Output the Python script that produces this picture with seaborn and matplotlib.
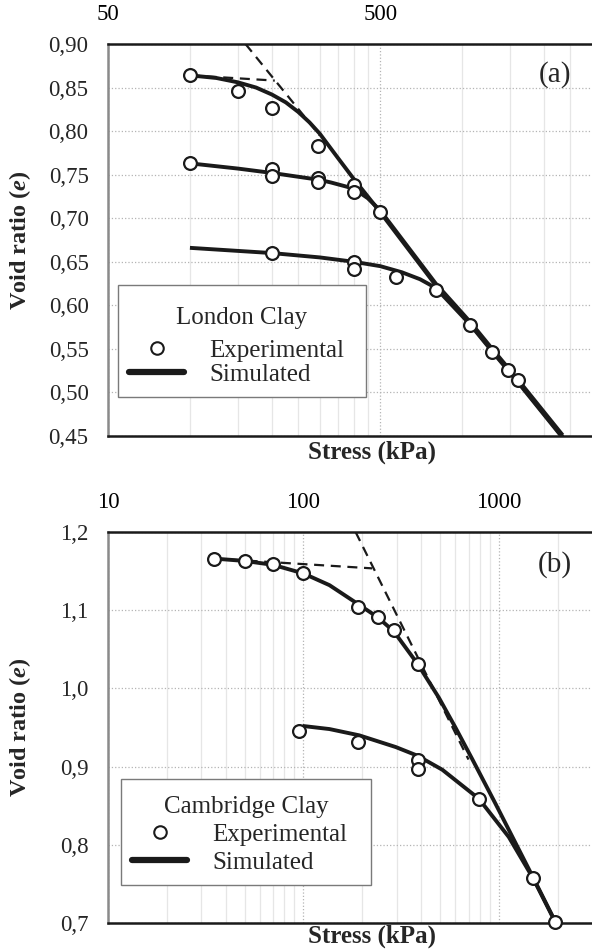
import numpy as np
import pandas as pd
import matplotlib
matplotlib.use("Agg")
import matplotlib.pyplot as plt
from matplotlib.lines import Line2D
from matplotlib.offsetbox import DrawingArea
from matplotlib.ticker import FixedLocator, NullFormatter, FixedFormatter
import seaborn as sns

# ---------------- Panel (a): London Clay ----------------
lc_exp1_s = [100, 150, 200, 295, 400, 500]
lc_exp1_e = [0.864, 0.846, 0.827, 0.783, 0.738, 0.707]
lc_exp2_s = [100, 200, 200, 295, 295, 400]
lc_exp2_e = [0.763, 0.756, 0.749, 0.746, 0.742, 0.730]
lc_exp3_s = [200, 400, 400, 570, 800, 1070, 1290, 1480, 1600]
lc_exp3_e = [0.660, 0.650, 0.642, 0.632, 0.618, 0.577, 0.547, 0.526, 0.514]

lc_sim1_s = [100, 125, 150, 175, 200, 225, 250, 275, 300, 350, 400, 450, 500,
             800, 1070, 1290, 1600, 2340]
lc_sim1_e = [0.864, 0.861, 0.856, 0.850, 0.842, 0.833, 0.822, 0.810, 0.797, 0.769,
             0.745, 0.725, 0.707, 0.623, 0.579, 0.548, 0.513, 0.449]
lc_sim2_s = [100, 150, 200, 300, 330, 400, 450, 500, 800, 1070, 1290, 1600, 2340]
lc_sim2_e = [0.763, 0.757, 0.752, 0.744, 0.741, 0.734, 0.723, 0.709, 0.625, 0.581,
             0.550, 0.515, 0.451]
lc_sim3_s = [100, 200, 300, 400, 500, 600, 700, 800, 900, 1070, 1290, 1600, 2340]
lc_sim3_e = [0.666, 0.660, 0.655, 0.650, 0.645, 0.638, 0.630, 0.620, 0.603, 0.578,
             0.547, 0.512, 0.448]

lc_dash1_s = [100, 205]
lc_dash1_e = [0.864, 0.858]
lc_dash2_s = [160, 300]
lc_dash2_e = [0.900, 0.795]

lc_xticks = [50, 500, 5000]
lc_xticklabels = ["50", "500", "5000"]
lc_yticks = [0.45, 0.50, 0.55, 0.60, 0.65, 0.70, 0.75, 0.80, 0.85, 0.90]
lc_yticklabels = ["0,45", "0,50", "0,55", "0,60", "0,65", "0,70", "0,75", "0,80", "0,85", "0,90"]

# ---------------- Panel (b): Cambridge Clay ----------------
cc_exp1_s = [35, 50, 70, 100, 190, 240, 290, 385, 1500, 1950]
cc_exp1_e = [1.166, 1.163, 1.159, 1.147, 1.104, 1.091, 1.075, 1.031, 0.757, 0.701]
cc_exp2_s = [95, 190, 385, 385, 790]
cc_exp2_e = [0.945, 0.932, 0.908, 0.897, 0.859]

cc_sim1_s = [35, 50, 70, 100, 136, 190, 240, 290, 385, 494, 600, 730, 960, 1500, 1950]
cc_sim1_e = [1.166, 1.163, 1.158, 1.147, 1.132, 1.108, 1.091, 1.073, 1.031, 0.988,
             0.950, 0.910, 0.853, 0.758, 0.701]
cc_sim2_s = [99, 136, 193, 297, 383, 514, 790, 1125, 1500, 1950]
cc_sim2_e = [0.952, 0.948, 0.940, 0.925, 0.914, 0.896, 0.859, 0.810, 0.757, 0.701]

cc_dash1_s = [35, 225]
cc_dash1_e = [1.166, 1.1535]
cc_dash2_s = [185, 700]
cc_dash2_e = [1.200, 0.909]

cc_xticks = [10, 100, 1000]
cc_xticklabels = ["10", "100", "1000"]
cc_yticks = [0.7, 0.8, 0.9, 1.0, 1.1, 1.2]
cc_yticklabels = ["0,7", "0,8", "0,9", "1,0", "1,1", "1,2"]

sns.set_style("white")
plt.rcParams["font.family"] = ["Liberation Serif", "DejaVu Serif"]
plt.rcParams["mathtext.fontset"] = "custom"
plt.rcParams["mathtext.rm"] = "Liberation Serif"
plt.rcParams["mathtext.it"] = "Liberation Serif:italic"
plt.rcParams["mathtext.bf"] = "Liberation Serif:bold"
plt.rcParams["mathtext.bfit"] = "Liberation Serif:bold:italic"

INK = "#1a1a1a"


def frame(pairs, name):
    parts = []
    for i, (s, e) in enumerate(pairs):
        parts.append(pd.DataFrame({"stress": s, "e": e, "curve": f"{name}{i}"}))
    return pd.concat(parts, ignore_index=True)


def draw_panel(ax, sims, exps, dashes, xlim, ylim, xticks, xticklabels,
               minor, yticks, yticklabels, tag, tagy, xl_y):
    ax.set_xscale("log")
    df_sim = frame(sims, "sim")
    df_exp = frame(exps, "exp")
    df_dash = frame(dashes, "dash")
    sns.lineplot(data=df_dash, x="stress", y="e", units="curve", estimator=None,
                 sort=False, color=INK, lw=1.6, linestyle=(0, (4.5, 3)), ax=ax,
                 legend=False, zorder=3)
    sns.lineplot(data=df_sim, x="stress", y="e", units="curve", estimator=None,
                 sort=False, color=INK, lw=2.8, ax=ax, legend=False, zorder=4,
                 solid_joinstyle="round", solid_capstyle="butt")
    sns.scatterplot(data=df_exp, x="stress", y="e", marker="o", s=85,
                    facecolor="white", edgecolor=INK, linewidth=1.6, ax=ax,
                    legend=False, zorder=5, clip_on=False)

    ax.set_xlim(*xlim)
    ax.set_ylim(*ylim)
    ax.xaxis.set_major_locator(FixedLocator(xticks))
    ax.xaxis.set_major_formatter(FixedFormatter(xticklabels))
    ax.xaxis.set_minor_locator(FixedLocator(minor))
    ax.xaxis.set_minor_formatter(NullFormatter())
    ax.xaxis.tick_top()
    ax.tick_params(axis="x", which="both", length=0, pad=14, labelsize=16.5,
                   colors="black")
    ax.set_yticks(yticks)
    ax.set_yticklabels(yticklabels)
    ax.tick_params(axis="y", length=0, pad=14, labelsize=16.5)

    ax.grid(False)
    ax.yaxis.grid(True, ls=":", color="#b4b4b4", lw=0.9)
    ax.xaxis.grid(True, which="major", ls=":", color="#b4b4b4", lw=0.9)
    ax.xaxis.grid(True, which="minor", ls="-", color="#e6e6e6", lw=0.9)
    ax.set_axisbelow(True)

    for side in ["top", "bottom"]:
        ax.spines[side].set_visible(True)
        ax.spines[side].set_color(INK)
        ax.spines[side].set_linewidth(1.8)
    ax.spines["left"].set_visible(True)
    ax.spines["left"].set_color("#8a8a8a")
    ax.spines["left"].set_linewidth(1.8)
    ax.spines["right"].set_visible(False)

    ax.set_xlabel("Stress (kPa)", fontsize=18, fontweight="bold")
    ax.xaxis.set_label_position("bottom")
    ax.xaxis.set_label_coords(0.545, xl_y)
    ax.set_ylabel(r"Void ratio ($\mathbfit{e}$)", fontsize=17.5, fontweight="bold")
    ax.yaxis.set_label_coords(-0.155, 0.5)

    ax.text(0.924, tagy, tag, transform=ax.transAxes, fontsize=21,
            ha="center", va="center")

    handles = [
        Line2D([], [], marker="o", ls="none", mfc="white", mec=INK, ms=9, mew=1.5),
        Line2D([], [], color=INK, lw=4.5),
    ]
    return handles


def add_legend(ax, handles, title, bbox, labelspacing, title_sep):
    leg = ax.legend(handles, ["Experimental", "Simulated"], title=title,
                    loc="lower left", bbox_to_anchor=bbox, mode="expand",
                    frameon=True, fancybox=False, edgecolor="#7a7a7a",
                    framealpha=1, fontsize=18, title_fontsize=18,
                    borderaxespad=0, handlelength=2.2, handletextpad=1.0,
                    labelspacing=labelspacing, borderpad=0.45)
    leg.get_frame().set_linewidth(1.0)
    box = leg._legend_box
    if title_sep is not None:
        box.sep = title_sep
    box._children.insert(0, DrawingArea(1, 0))
    return leg


fig = plt.figure(figsize=(5.92, 9.51), dpi=100)
ax_a = fig.add_axes([108 / 592, 1 - 436 / 951, 484 / 592, 392 / 951])
ax_b = fig.add_axes([108 / 592, 1 - 923 / 951, 484 / 592, 391 / 951])

minor_a = [100, 150, 200, 250, 300, 350, 400, 450, 1000, 1500, 2000, 2500]
minor_b = [20, 30, 40, 50, 60, 70, 80, 90, 200, 300, 400, 500, 600, 700, 800, 900, 2000]

h = draw_panel(ax_a,
               [(lc_sim1_s, lc_sim1_e), (lc_sim2_s, lc_sim2_e), (lc_sim3_s, lc_sim3_e)],
               [(lc_exp1_s, lc_exp1_e), (lc_exp2_s, lc_exp2_e), (lc_exp3_s, lc_exp3_e)],
               [(lc_dash1_s, lc_dash1_e), (lc_dash2_s, lc_dash2_e)],
               (50, 3000), (0.45, 0.90), lc_xticks, lc_xticklabels, minor_a,
               lc_yticks, lc_yticklabels, "(a)", 0.923, -0.012)
add_legend(ax_a, h, "London Clay", (0.0207, 0.0995, 0.512, 0.283), 0.05, 7.5)

h = draw_panel(ax_b,
               [(cc_sim1_s, cc_sim1_e), (cc_sim2_s, cc_sim2_e)],
               [(cc_exp1_s, cc_exp1_e), (cc_exp2_s, cc_exp2_e)],
               [(cc_dash1_s, cc_dash1_e), (cc_dash2_s, cc_dash2_e)],
               (10, 3000), (0.7, 1.2), cc_xticks, cc_xticklabels, minor_b,
               cc_yticks, cc_yticklabels, "(b)", 0.9156, -0.005)
add_legend(ax_b, h, "Cambridge Clay", (0.0269, 0.0972, 0.516, 0.27), 0.22, None)

fig.savefig("out.png", dpi=100)
